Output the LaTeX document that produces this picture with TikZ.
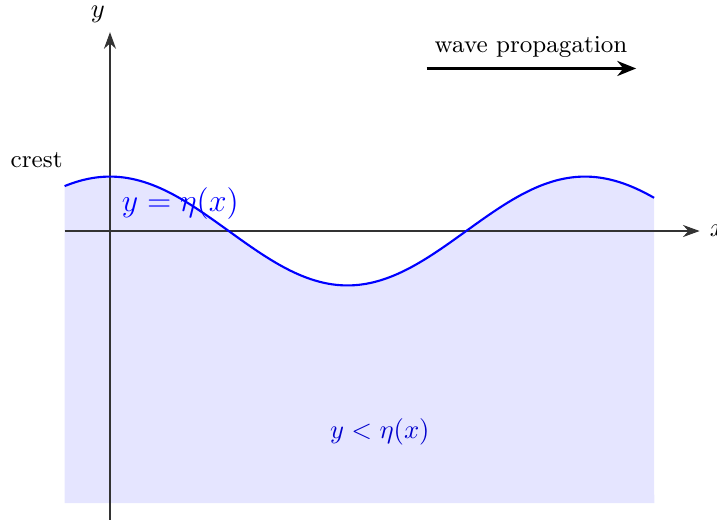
\documentclass[tikz,border=0pt]{standalone}
\usetikzlibrary{arrows.meta}
\begin{document}
\begin{tikzpicture}[
  axis/.style={thin,black!80,-{Stealth[length=2.2mm,width=1.6mm]}},
  wave/.style={thick,blue},
  water/.style={fill=blue!10,draw=none},
  lbl/.style={font=\fontsize{9.2}{11}\selectfont}
]
\useasboundingbox (-1.455,-3.82) rectangle (8.03,3.056);
% water region
\fill[water] (-0.6,-3.6) -- plot[domain=-0.6:7.2,samples=200,smooth] (\x,{0.72*cos(\x r)}) -- (7.2,-3.6) -- cycle;
% axes
\coordinate (xs) at (-0.6,0);
\coordinate (xe) at (7.8,0);
\coordinate (ys) at (0,-3.9);
\coordinate (ye) at (0,2.63);
\draw[axis] (xs) -- (xe);
\draw[axis] (ys) -- (ye);
\node[anchor=west,inner sep=0pt] (xl) at (7.93,0) {$x$};
\node (yl) at (-0.16,2.86) {$y$};
% wave
\draw[wave] plot[domain=-0.6:7.2,samples=200,smooth] (\x,{0.72*cos(\x r)});
% labels
\node[lbl] (crest) at (-0.97,0.94) {crest};
\node[text=blue] (eta) at (0.93,0.36) {\large $y=\eta(x)$};
\node[text=blue!80!black] (below) at (3.57,-2.66) {$y<\eta(x)$};
\node[lbl] (wp) at (5.57,2.44) {wave propagation};
\coordinate (ws) at (4.19,2.15);
\coordinate (we) at (6.96,2.15);
\draw[thick,-{Stealth[length=2.5mm,width=2mm]}] (ws) -- (we);
\end{tikzpicture}
\end{document}
